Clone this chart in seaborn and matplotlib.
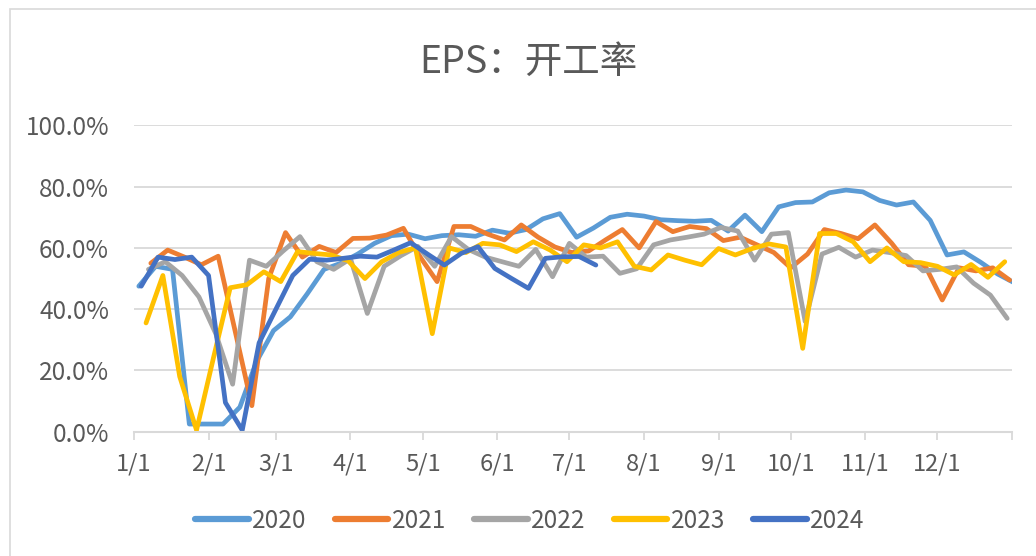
import matplotlib
matplotlib.use("Agg")
import matplotlib.pyplot as plt
import numpy as np
import pandas as pd
import seaborn as sns
from matplotlib.lines import Line2D
from matplotlib.patches import Rectangle

# ---------------- data ----------------
years = ["2020", "2021", "2022", "2023", "2024"]
start_dates = ["2020-01-03", "2021-01-08", "2022-01-07", "2023-01-06", "2024-01-04"]
colors = ["#5B9BD5", "#ED7D31", "#A5A5A5", "#FFC000", "#4472C4"]

v2020 = [47.5, 54, 53, 2.5, 2.5, 2.5, 8, 23, 33, 37.5, 45, 53, 55, 58, 61.5, 64, 64.5, 63,
         64, 64.3, 63.8, 65.8, 64.8, 66, 69.5, 71.2, 63.5, 66.5, 70, 71, 70.4, 69.2, 68.9,
         68.7, 69, 65.5, 70.7, 65.3, 73.4, 74.8, 75, 78, 78.9, 78.3, 75.5, 74, 75, 69,
         57.7, 58.7, 55.3, 51.5, 48.6]
v2021 = [55, 59.3, 57, 54.5, 57.3, 33, 8.5, 50, 65, 57, 60.5, 58.5, 63.1, 63.2, 64.2, 66.4,
         57, 49, 67, 67, 64.5, 62.6, 67.5, 63.5, 60.3, 58.5, 59, 62.6, 66, 60, 68.6, 65.3,
         67, 66.3, 62.4, 63.5, 61, 58.5, 53.5, 58, 66, 64.7, 63, 67.5, 61.5, 54.5, 54, 43,
         53.5, 52.5, 53.5, 49.5]
v2022 = [53, 55.5, 51, 44, 32, 15.5, 56, 54, 59, 63.7, 55.5, 53, 56.5, 38.6, 54, 57.5, 60.5,
         54, 63.7, 59.5, 57, 55.5, 54, 59.5, 50.6, 61.5, 57, 57.3, 51.7, 53.2, 61, 62.6, 63.5,
         64.5, 66.7, 65.5, 56, 64.5, 65, 36, 58, 60.2, 57, 59.3, 58.5, 57.5, 52.5, 53, 53.8,
         48.5, 44.6, 37]
v2023 = [35.5, 51, 18, 0.5, 24, 47, 48, 52.2, 49, 58.8, 58.2, 57.7, 55.8, 50, 55.5, 58.5, 60,
         32, 60, 58.5, 61.5, 61, 58.8, 62, 59.3, 55.5, 61, 60, 62, 54, 52.8, 57.7, 56, 54.5,
         59.8, 57.7, 59.8, 61.3, 60.3, 27.2, 64.7, 64.7, 62, 55.5, 60, 55.5, 55.2, 54, 51.2,
         54.6, 50.4, 55.5]
v2024 = [47.5, 57, 56.2, 57, 51, 9.5, 0.5, 29, 40, 51, 56.3, 56, 56.6, 57.3, 57, 59.3, 61.7,
         58, 54.4, 58.2, 60.4, 53.3, 50, 46.8, 56.6, 57.1, 57.2, 54.4]
series = [v2020, v2021, v2022, v2023, v2024]

month_labels = ["1/1", "2/1", "3/1", "4/1", "5/1", "6/1", "7/1", "8/1", "9/1", "10/1", "11/1", "12/1"]
month_days = [0, 31, 59, 90, 120, 151, 181, 212, 243, 273, 304, 334]
y_ticks = [0, 20, 40, 60, 80, 100]

# --------------- build long table ---------------
frames = []
for yr, sd, vals in zip(years, start_dates, series):
    dates = pd.date_range(sd, periods=len(vals), freq="7D")
    doy = (dates - pd.Timestamp(f"{yr}-01-01")).days
    frames.append(pd.DataFrame({"day": doy, "value": vals, "year": yr}))
df = pd.concat(frames, ignore_index=True)

# --------------- style ---------------
sns.set_theme(style="white")
plt.rcParams["font.family"] = ["Noto Sans CJK SC", "DejaVu Sans"]
text_color = "#595959"
grid_color = "#D9D9D9"

fig = plt.figure(figsize=(10.36, 5.56), dpi=100)
ax = fig.add_axes([134 / 1036, 1 - 431.7 / 556, (1012 - 134) / 1036, 306.3 / 556])

sns.lineplot(data=df, x="day", y="value", hue="year", palette=dict(zip(years, colors)),
             hue_order=years, linewidth=3.4, estimator=None, sort=False, legend=False, ax=ax)
for ln in ax.lines:
    ln.set_solid_joinstyle("round")
    ln.set_solid_capstyle("round")

ax.set_xlim(0, 365)
ax.set_ylim(0, 100)
ax.set_xticks(month_days + [365])
ax.set_xticklabels(month_labels + [""])
ax.set_yticks(y_ticks)
ax.set_yticklabels([f"{v:.1f}%" for v in y_ticks])
ax.set_xlabel("")
ax.set_ylabel("")

ax.yaxis.grid(True, color=grid_color, linewidth=1.3)
ax.xaxis.grid(False)
ax.set_axisbelow(True)
for s in ["left", "right", "top"]:
    ax.spines[s].set_visible(False)
ax.spines["bottom"].set_color(grid_color)
ax.spines["bottom"].set_linewidth(1.5)
ax.tick_params(axis="x", direction="out", length=6, width=1.3, color=grid_color,
               labelsize=17, labelcolor=text_color, pad=9, bottom=True)
ax.tick_params(axis="y", length=0, labelsize=17.5, labelcolor=text_color, pad=18)

fig.text(528 / 1036, 1 - 62 / 556, "EPS：开工率", ha="center", va="center",
         fontsize=27, color=text_color)

handles = [Line2D([0], [0], color=c, lw=4.5, solid_capstyle="round") for c in colors]
fig.legend(handles, years, loc="center", bbox_to_anchor=(530 / 1036, 1 - 521 / 556),
           ncol=5, frameon=False, fontsize=17.5, handlelength=2.2, handletextpad=0.15,
           columnspacing=1.15, labelcolor=text_color)

fig.patches.append(Rectangle((10 / 1036, -0.05), 1.1, 1 - 9 / 556 + 0.05,
                             transform=fig.transFigure, fill=False,
                             edgecolor=grid_color, linewidth=1.2))

fig.savefig("out.png", dpi=100)
